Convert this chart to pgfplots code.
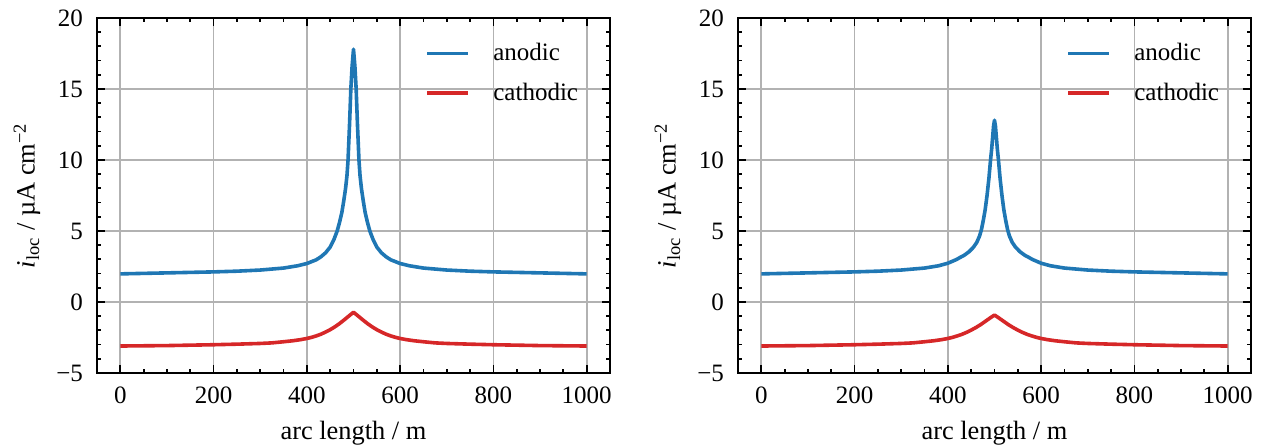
\documentclass[border=0pt]{standalone}
\usepackage{fontspec}
\setmainfont{Liberation Serif}
\usepackage{pgfplots}
\pgfplotsset{compat=1.18}

\definecolor{tabblue}{HTML}{1F77B4}
\definecolor{tabred}{HTML}{D62728}

\pgfplotsset{
 panel/.style={
  scale only axis, width=256.5pt, height=177.5pt,
  xmin=-50, xmax=1050, ymin=-5, ymax=20,
  xtick={0,200,400,600,800,1000}, xticklabels={0,200,400,600,800,1000},
  ytick={-5,0,5,10,15,20}, yticklabels={−5,0,5,10,15,20},
  minor x tick num=3, minor y tick num=4,
  tick align=inside, tick pos=both,
  major tick length=4pt, minor tick length=2.2pt,
  every tick/.style={black, line width=0.9pt},
  axis line style={line width=1.2pt},
  grid=major, grid style={color=black!30, line width=0.9pt},
  ticklabel style={font=\fontsize{12.5}{14}\selectfont},
  xticklabel style={yshift=-3.5pt},
  yticklabel style={xshift=-3.5pt},
  label style={font=\fontsize{13.2}{15}\selectfont},
  xlabel={arc length / m},
  ylabel={\textit{i}\textsubscript{loc} / µA cm\textsuperscript{−2}},
  xlabel style={at={(axis description cs:0.5,-0.169)}, anchor=center},
  ylabel style={at={(axis description cs:-0.1365,0.5)}, anchor=center},
  legend style={draw=none, fill=none, at={(0.628,0.952)}, anchor=north west,
   font=\fontsize{12.5}{14}\selectfont, row sep=5.5pt},
  legend cell align=left,
  legend image code/.code={\draw[#1] (0pt,0pt) -- (20.5pt,0pt);
   \path[draw=none] (0pt,0pt) -- (31pt,0pt);},
 },
 anod/.style={color=tabblue, line width=1.8pt, line join=round},
 cath/.style={color=tabred, line width=1.8pt, line join=round},
}

\begin{document}
\begin{tikzpicture}
\useasboundingbox (-48.5pt,-37.5pt) rectangle (584pt,186.5pt);
\begin{axis}[panel]
\addplot[anod] coordinates {
(0,1.98) (100,2.05) (200,2.12) (250,2.17) (300,2.25) (350,2.39) (380,2.55) (400,2.71)
(420,2.97) (430,3.18) (440,3.46) (450,3.87) (458,4.4) (465,5.0) (470,5.6) (475,6.3)
(479,7.1) (483,8.0) (486,8.9) (488.3,10.0) (491.5,12.5) (494.3,15.0) (497,16.6) (500,17.8)
(503,16.6) (505.7,15.0) (508.5,12.5) (511.7,10.0) (514,8.9) (517,8.0) (521,7.1) (525,6.3)
(530,5.6) (535,5.0) (542,4.4) (550,3.87) (560,3.46) (570,3.18) (580,2.97) (600,2.71)
(620,2.55) (650,2.39) (700,2.25) (750,2.17) (800,2.12) (900,2.05) (1000,1.98)};
\addlegendentry{anodic}
\addplot[cath] coordinates {
(0,-3.1) (100,-3.07) (200,-3.01) (250,-2.97) (300,-2.92) (325,-2.88) (350,-2.8) (370,-2.73)
(385,-2.66) (400,-2.57) (410,-2.49) (420,-2.39) (430,-2.27) (440,-2.12) (450,-1.95)
(460,-1.75) (470,-1.52) (480,-1.26) (490,-0.99) (500,-0.72)
(510,-0.99) (520,-1.26) (530,-1.52) (540,-1.75) (550,-1.95)
(560,-2.12) (570,-2.27) (580,-2.39) (590,-2.49) (600,-2.57) (615,-2.66) (630,-2.73)
(650,-2.8) (675,-2.88) (700,-2.92) (750,-2.97) (800,-3.01) (900,-3.07) (1000,-3.1)};
\addlegendentry{cathodic}
\end{axis}
\begin{axis}[panel, xshift=320.5pt]
\addplot[anod] coordinates {
(0,1.98) (100,2.05) (200,2.12) (250,2.17) (300,2.25) (350,2.39) (380,2.55) (400,2.73)
(419,3.0) (427,3.15) (435,3.29) (445,3.53) (455,3.86) (462,4.2) (468,4.65) (472,5.1)
(476,5.75) (480,6.5) (484,7.5) (488,8.7) (491.5,10.0) (494,10.8) (496,11.6) (498,12.4) (500,12.8)
(502,12.4) (504,11.6) (506,10.8) (508.5,10.0) (512,8.7) (516,7.5) (520,6.5) (524,5.75)
(528,5.1) (532,4.65) (538,4.2) (545,3.86) (555,3.53) (565,3.29) (573,3.15) (581,3.0)
(600,2.73) (620,2.55) (650,2.39) (700,2.25) (750,2.17) (800,2.12) (900,2.05) (1000,1.98)};
\addlegendentry{anodic}
\addplot[cath] coordinates {
(0,-3.1) (100,-3.07) (200,-3.01) (250,-2.97) (300,-2.92) (325,-2.88) (350,-2.8) (370,-2.73)
(385,-2.66) (400,-2.57) (410,-2.49) (420,-2.39) (430,-2.28) (440,-2.14) (450,-1.98)
(460,-1.8) (470,-1.6) (480,-1.37) (490,-1.14) (500,-0.92)
(510,-1.14) (520,-1.37) (530,-1.6) (540,-1.8) (550,-1.98)
(560,-2.14) (570,-2.28) (580,-2.39) (590,-2.49) (600,-2.57) (615,-2.66) (630,-2.73)
(650,-2.8) (675,-2.88) (700,-2.92) (750,-2.97) (800,-3.01) (900,-3.07) (1000,-3.1)};
\addlegendentry{cathodic}
\end{axis}
\end{tikzpicture}
\end{document}
